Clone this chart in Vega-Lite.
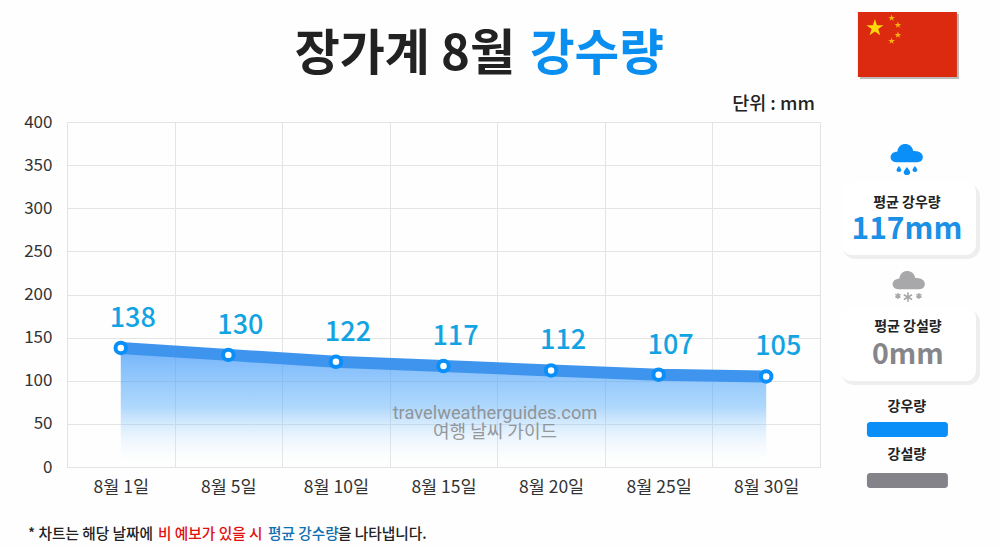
{"autosize":{"type":"none"},"padding":{"left":67,"top":122,"right":180,"bottom":80},"width":753,"height":345,"background":"#fefefe","config":{"font":"Noto Sans CJK KR","view":{"stroke":"#e4e4e4"}},
"layer":[
{"data":{"values":[{"d":"8월 1일","v":138},{"d":"8월 5일","v":130},{"d":"8월 10일","v":122},{"d":"8월 15일","v":117},{"d":"8월 20일","v":112},{"d":"8월 25일","v":107},{"d":"8월 30일","v":105}]},
"encoding":{"x":{"field":"d","type":"nominal","sort":null,"scale":{"type":"band","paddingInner":0,"paddingOuter":0,"domain":["8월 1일","8월 5일","8월 10일","8월 15일","8월 20일","8월 25일","8월 30일"]},"axis":{"title":null,"labelAngle":0,"tickBand":"extent","grid":true,"gridColor":"#e4e4e4","domain":false,"ticks":false,"labelFontSize":17.5,"labelColor":"#333333","labelPadding":11}},
"y":{"field":"v","type":"quantitative","scale":{"domain":[0,400],"nice":false},"axis":{"title":null,"values":[0,50,100,150,200,250,300,350,400],"grid":true,"gridColor":"#e4e4e4","domain":false,"ticks":false,"labelFontSize":17,"labelColor":"#333333","labelPadding":15}}},
"layer":[
{"mark":{"type":"area","color":{"gradient":"linear","x1":0,"y1":0,"x2":0,"y2":1,"stops":[{"offset":0,"color":"rgba(60,150,250,0.72)"},{"offset":0.5,"color":"rgba(90,175,250,0.48)"},{"offset":1,"color":"rgba(255,255,255,0)"}]}}},
{"mark":{"type":"line","color":"#3f95ee","strokeWidth":12}},
{"mark":{"type":"point","filled":false,"fill":"#ffffff","fillOpacity":1,"opacity":1,"stroke":"#0a8ff8","strokeWidth":4,"size":110}},
{"mark":{"type":"text","color":"#12a3e2","fontSize":27,"fontWeight":500,"xOffset":12,"dy":-29},"encoding":{"text":{"field":"v","type":"quantitative"}}}
]},
{"data":{"values":[{"item":"flag shadow"}]},"mark":{"type":"rect","color":"#777777","opacity":0.5,"width":99,"xOffset":143.2},"encoding":{"x":{"datum":"8월 30일","type":"nominal"},"y":{"datum":525.2,"type":"quantitative"},"y2":{"datum":449.9}}},
{"data":{"values":[{"item":"flag"}]},"mark":{"type":"rect","color":"#dc2a10","width":99,"xOffset":141.2},"encoding":{"x":{"datum":"8월 30일","type":"nominal"},"y":{"datum":527.5,"type":"quantitative"},"y2":{"datum":452.2}}},
{"data":{"values":[{"item":"big star"}]},"mark":{"type":"point","shape":"M0 -1L0.2245 -0.309L0.951 -0.309L0.363 0.118L0.588 0.809L0 0.382L-0.588 0.809L-0.363 0.118L-0.951 -0.309L-0.2245 -0.309Z","filled":true,"color":"#ffd80a","opacity":1,"size":324,"xOffset":108.7},"encoding":{"x":{"datum":"8월 30일","type":"nominal"},"y":{"datum":509,"type":"quantitative"}}},
{"data":{"values":[{"item":"star 1"}]},"mark":{"type":"point","shape":"M0 -1L0.2245 -0.309L0.951 -0.309L0.363 0.118L0.588 0.809L0 0.382L-0.588 0.809L-0.363 0.118L-0.951 -0.309L-0.2245 -0.309Z","filled":true,"color":"#f5b50f","opacity":1,"size":49,"xOffset":125.4},"encoding":{"x":{"datum":"8월 30일","type":"nominal"},"y":{"datum":520.6,"type":"quantitative"}}},
{"data":{"values":[{"item":"star 2"}]},"mark":{"type":"point","shape":"M0 -1L0.2245 -0.309L0.951 -0.309L0.363 0.118L0.588 0.809L0 0.382L-0.588 0.809L-0.363 0.118L-0.951 -0.309L-0.2245 -0.309Z","filled":true,"color":"#f5b50f","opacity":1,"size":49,"xOffset":131.7},"encoding":{"x":{"datum":"8월 30일","type":"nominal"},"y":{"datum":512.5,"type":"quantitative"}}},
{"data":{"values":[{"item":"star 3"}]},"mark":{"type":"point","shape":"M0 -1L0.2245 -0.309L0.951 -0.309L0.363 0.118L0.588 0.809L0 0.382L-0.588 0.809L-0.363 0.118L-0.951 -0.309L-0.2245 -0.309Z","filled":true,"color":"#f5b50f","opacity":1,"size":49,"xOffset":131.7},"encoding":{"x":{"datum":"8월 30일","type":"nominal"},"y":{"datum":500.9,"type":"quantitative"}}},
{"data":{"values":[{"item":"star 4"}]},"mark":{"type":"point","shape":"M0 -1L0.2245 -0.309L0.951 -0.309L0.363 0.118L0.588 0.809L0 0.382L-0.588 0.809L-0.363 0.118L-0.951 -0.309L-0.2245 -0.309Z","filled":true,"color":"#f5b50f","opacity":1,"size":49,"xOffset":125.4},"encoding":{"x":{"datum":"8월 30일","type":"nominal"},"y":{"datum":493.9,"type":"quantitative"}}},
{"data":{"values":[{"label":"장가계 8월"}]},"mark":{"type":"text","align":"right","baseline":"middle","fontSize":49,"fontWeight":700,"color":"#222222","xOffset":71.5},"encoding":{"x":{"datum":"8월 15일","type":"nominal"},"y":{"datum":477.7,"type":"quantitative"},"text":{"field":"label"}}},
{"data":{"values":[{"label":"강수량"}]},"mark":{"type":"text","align":"left","baseline":"middle","fontSize":48.5,"fontWeight":700,"color":"#0a8ff0","xOffset":86.5},"encoding":{"x":{"datum":"8월 15일","type":"nominal"},"y":{"datum":477.7,"type":"quantitative"},"text":{"field":"label"}}},
{"data":{"values":[{"label":"단위 : mm"}]},"mark":{"type":"text","align":"right","baseline":"middle","fontSize":18.5,"fontWeight":500,"color":"#222222","xOffset":48.7},"encoding":{"x":{"datum":"8월 30일","type":"nominal"},"y":{"datum":420.9,"type":"quantitative"},"text":{"field":"label"}}},
{"data":{"values":[{"label":"travelweatherguides.com"}]},"mark":{"type":"text","align":"center","baseline":"middle","fontSize":18.3,"font":"Roboto","color":"#888888","opacity":0.85,"xOffset":51.5},"encoding":{"x":{"datum":"8월 15일","type":"nominal"},"y":{"datum":62,"type":"quantitative"},"text":{"field":"label"}}},
{"data":{"values":[{"label":"여행 날씨 가이드"}]},"mark":{"type":"text","align":"center","baseline":"middle","fontSize":18,"color":"#888888","opacity":0.85,"xOffset":51.5},"encoding":{"x":{"datum":"8월 15일","type":"nominal"},"y":{"datum":39.5,"type":"quantitative"},"text":{"field":"label"}}},
{"data":{"values":[{"item":"rain cloud"}]},"mark":{"type":"point","shape":"M-0.65 0.45 C-1.15 0.45 -1.15 -0.2 -0.6 -0.2 C-0.55 -0.85 0.3 -0.85 0.4 -0.25 C1.15 -0.3 1.15 0.45 0.65 0.45 Z","filled":true,"color":"#0a8ff8","opacity":1,"size":1024,"xOffset":140.7},"encoding":{"x":{"datum":"8월 30일","type":"nominal"},"y":{"datum":361.7,"type":"quantitative"}}},
{"data":{"values":[{"item":"drop 1"}]},"mark":{"type":"point","shape":"M0 -1 C0.6 -0.2 0.8 0.1 0.8 0.35 C0.8 0.8 0.4 1 0 1 C-0.4 1 -0.8 0.8 -0.8 0.35 C-0.8 0.1 -0.6 -0.2 0 -1Z","filled":true,"color":"#0a8ff8","opacity":1,"size":36,"xOffset":132.7},"encoding":{"x":{"datum":"8월 30일","type":"nominal"},"y":{"datum":345.5,"type":"quantitative"}}},
{"data":{"values":[{"item":"drop 2"}]},"mark":{"type":"point","shape":"M0 -1 C0.6 -0.2 0.8 0.1 0.8 0.35 C0.8 0.8 0.4 1 0 1 C-0.4 1 -0.8 0.8 -0.8 0.35 C-0.8 0.1 -0.6 -0.2 0 -1Z","filled":true,"color":"#0a8ff8","opacity":1,"size":64,"xOffset":140.7},"encoding":{"x":{"datum":"8월 30일","type":"nominal"},"y":{"datum":343.2,"type":"quantitative"}}},
{"data":{"values":[{"item":"drop 3"}]},"mark":{"type":"point","shape":"M0 -1 C0.6 -0.2 0.8 0.1 0.8 0.35 C0.8 0.8 0.4 1 0 1 C-0.4 1 -0.8 0.8 -0.8 0.35 C-0.8 0.1 -0.6 -0.2 0 -1Z","filled":true,"color":"#0a8ff8","opacity":1,"size":36,"xOffset":148.7},"encoding":{"x":{"datum":"8월 30일","type":"nominal"},"y":{"datum":345.5,"type":"quantitative"}}},
{"data":{"values":[{"item":"card 1 shadow"}]},"mark":{"type":"rect","color":"#999999","opacity":0.16,"cornerRadius":12,"width":137,"xOffset":145.2},"encoding":{"x":{"datum":"8월 30일","type":"nominal"},"y":{"datum":328,"type":"quantitative"},"y2":{"datum":241.2}}},
{"data":{"values":[{"item":"card 1"}]},"mark":{"type":"rect","color":"#ffffff","cornerRadius":10,"width":134,"xOffset":142.7},"encoding":{"x":{"datum":"8월 30일","type":"nominal"},"y":{"datum":330.4,"type":"quantitative"},"y2":{"datum":245.8}}},
{"data":{"values":[{"label":"평균 강우량"}]},"mark":{"type":"text","align":"center","baseline":"middle","fontSize":14,"fontWeight":700,"color":"#222222","xOffset":140.7},"encoding":{"x":{"datum":"8월 30일","type":"nominal"},"y":{"datum":306.5,"type":"quantitative"},"text":{"field":"label"}}},
{"data":{"values":[{"label":"117mm"}]},"mark":{"type":"text","align":"center","baseline":"middle","fontSize":30,"fontWeight":700,"color":"#1a90e6","xOffset":140.7},"encoding":{"x":{"datum":"8월 30일","type":"nominal"},"y":{"datum":274.5,"type":"quantitative"},"text":{"field":"label"}}},
{"data":{"values":[{"item":"snow cloud"}]},"mark":{"type":"point","shape":"M-0.65 0.45 C-1.15 0.45 -1.15 -0.2 -0.6 -0.2 C-0.55 -0.85 0.3 -0.85 0.4 -0.25 C1.15 -0.3 1.15 0.45 0.65 0.45 Z","filled":true,"color":"#a8a8aa","opacity":1,"size":1024,"xOffset":142.7},"encoding":{"x":{"datum":"8월 30일","type":"nominal"},"y":{"datum":214.5,"type":"quantitative"}}},
{"data":{"values":[{"item":"flake 1"}]},"mark":{"type":"point","shape":"M0 -1L0 1M-0.87 -0.5L0.87 0.5M-0.87 0.5L0.87 -0.5","filled":false,"color":"#a8a8aa","opacity":1,"strokeWidth":1.4,"size":36,"xOffset":131.7},"encoding":{"x":{"datum":"8월 30일","type":"nominal"},"y":{"datum":198.3,"type":"quantitative"}}},
{"data":{"values":[{"item":"flake 2"}]},"mark":{"type":"point","shape":"M0 -1L0 1M-0.87 -0.5L0.87 0.5M-0.87 0.5L0.87 -0.5","filled":false,"color":"#a8a8aa","opacity":1,"strokeWidth":1.6,"size":90,"xOffset":141.7},"encoding":{"x":{"datum":"8월 30일","type":"nominal"},"y":{"datum":197,"type":"quantitative"}}},
{"data":{"values":[{"item":"flake 3"}]},"mark":{"type":"point","shape":"M0 -1L0 1M-0.87 -0.5L0.87 0.5M-0.87 0.5L0.87 -0.5","filled":false,"color":"#a8a8aa","opacity":1,"strokeWidth":1.4,"size":36,"xOffset":152.7},"encoding":{"x":{"datum":"8월 30일","type":"nominal"},"y":{"datum":198.3,"type":"quantitative"}}},
{"data":{"values":[{"item":"card 2 shadow"}]},"mark":{"type":"rect","color":"#999999","opacity":0.16,"cornerRadius":12,"width":138,"xOffset":144.7},"encoding":{"x":{"datum":"8월 30일","type":"nominal"},"y":{"datum":182,"type":"quantitative"},"y2":{"datum":95.1}}},
{"data":{"values":[{"item":"card 2"}]},"mark":{"type":"rect","color":"#ffffff","cornerRadius":10,"width":135,"xOffset":142.2},"encoding":{"x":{"datum":"8월 30일","type":"nominal"},"y":{"datum":184.3,"type":"quantitative"},"y2":{"datum":99.7}}},
{"data":{"values":[{"label":"평균 강설량"}]},"mark":{"type":"text","align":"center","baseline":"middle","fontSize":14,"fontWeight":700,"color":"#222222","xOffset":141.7},"encoding":{"x":{"datum":"8월 30일","type":"nominal"},"y":{"datum":162.8,"type":"quantitative"},"text":{"field":"label"}}},
{"data":{"values":[{"label":"0mm"}]},"mark":{"type":"text","align":"center","baseline":"middle","fontSize":28.5,"fontWeight":700,"color":"#85858a","xOffset":141.7},"encoding":{"x":{"datum":"8월 30일","type":"nominal"},"y":{"datum":129.5,"type":"quantitative"},"text":{"field":"label"}}},
{"data":{"values":[{"label":"강우량"}]},"mark":{"type":"text","align":"center","baseline":"middle","fontSize":14,"fontWeight":700,"color":"#222222","xOffset":140.7},"encoding":{"x":{"datum":"8월 30일","type":"nominal"},"y":{"datum":69.6,"type":"quantitative"},"text":{"field":"label"}}},
{"data":{"values":[{"item":"rain swatch"}]},"mark":{"type":"rect","color":"#0a8ff8","cornerRadius":3,"width":81,"xOffset":141.2},"encoding":{"x":{"datum":"8월 30일","type":"nominal"},"y":{"datum":52.2,"type":"quantitative"},"y2":{"datum":34.8}}},
{"data":{"values":[{"label":"강설량"}]},"mark":{"type":"text","align":"center","baseline":"middle","fontSize":14,"fontWeight":700,"color":"#222222","xOffset":140.7},"encoding":{"x":{"datum":"8월 30일","type":"nominal"},"y":{"datum":13.9,"type":"quantitative"},"text":{"field":"label"}}},
{"data":{"values":[{"item":"snow swatch"}]},"mark":{"type":"rect","color":"#85838a","cornerRadius":3,"width":81,"xOffset":141.2},"encoding":{"x":{"datum":"8월 30일","type":"nominal"},"y":{"datum":-7,"type":"quantitative"},"y2":{"datum":-24.3}}},
{"data":{"values":[{"label":"* 차트는 해당 날짜에"}]},"mark":{"type":"text","align":"left","baseline":"middle","fontSize":14.7,"fontWeight":500,"color":"#222222","xOffset":-92.8},"encoding":{"x":{"datum":"8월 1일","type":"nominal"},"y":{"datum":-78.8,"type":"quantitative"},"text":{"field":"label"}}},
{"data":{"values":[{"label":"비 예보가 있을 시"}]},"mark":{"type":"text","align":"left","baseline":"middle","fontSize":14.7,"fontWeight":500,"color":"#e01010","xOffset":37.2},"encoding":{"x":{"datum":"8월 1일","type":"nominal"},"y":{"datum":-78.8,"type":"quantitative"},"text":{"field":"label"}}},
{"data":{"values":[{"label":"평균 강수량"}]},"mark":{"type":"text","align":"left","baseline":"middle","fontSize":14.7,"fontWeight":500,"color":"#0f6fb0","xOffset":147.2},"encoding":{"x":{"datum":"8월 1일","type":"nominal"},"y":{"datum":-78.8,"type":"quantitative"},"text":{"field":"label"}}},
{"data":{"values":[{"label":"을 나타냅니다."}]},"mark":{"type":"text","align":"left","baseline":"middle","fontSize":14.7,"fontWeight":500,"color":"#222222","xOffset":217.2},"encoding":{"x":{"datum":"8월 1일","type":"nominal"},"y":{"datum":-78.8,"type":"quantitative"},"text":{"field":"label"}}}
]}
